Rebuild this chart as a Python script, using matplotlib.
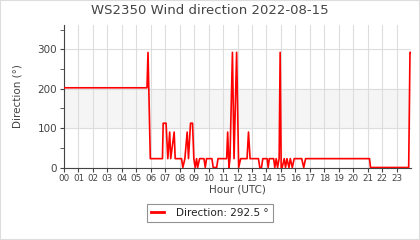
import matplotlib
matplotlib.use("Agg")
import matplotlib.pyplot as plt
from matplotlib.patches import Rectangle
from matplotlib.ticker import MultipleLocator

hours = [0.00, 5.74, 5.81, 5.97, 6.81, 6.86, 7.06, 7.18, 7.31, 7.38, 7.62, 7.69,
         8.13, 8.22, 8.36, 8.52, 8.61, 8.75, 8.89, 8.98, 9.07, 9.17, 9.24, 9.38,
         9.68, 9.77, 9.86, 10.23, 10.32, 10.56, 10.65, 11.25, 11.32, 11.41, 11.48,
         11.65, 11.76, 11.94, 12.08, 12.22, 12.66, 12.76, 12.87, 13.45, 13.54,
         13.66, 13.75, 14.05, 14.12, 14.20, 14.50, 14.58, 14.68, 14.77, 14.88,
         14.95, 15.02, 15.09, 15.23, 15.32, 15.42, 15.56, 15.65, 15.79, 15.92,
         16.44, 16.58, 16.71, 21.13, 21.20, 23.84, 23.93, 24.00]
direction = [202.5, 202.5, 292.5, 22.5, 22.5, 112.5, 112.5, 22.5, 90, 22.5, 90, 22.5,
             22.5, 0, 22.5, 90, 22.5, 112.5, 112.5, 22.5, 0, 22.5, 0, 22.5,
             22.5, 0, 22.5, 22.5, 0, 0, 22.5, 22.5, 90, 0, 22.5,
             292.5, 22.5, 292.5, 0, 22.5, 22.5, 90, 22.5, 22.5, 0,
             0, 22.5, 22.5, 0, 22.5, 22.5, 0, 22.5, 0, 22.5,
             292.5, 0, 0, 22.5, 0, 22.5, 0, 22.5, 0, 22.5,
             22.5, 0, 22.5, 22.5, 0, 0, 292.5, 292.5]
xtick_labels = ["%02d" % h for h in range(24)]
legend_label = "Direction: 292.5 °"
title = "WS2350 Wind direction 2022-08-15"

TXT = "#444444"
GRID = "#dddddd"

fig = plt.figure(figsize=(4.2, 2.4), dpi=100)
fig.patches.append(Rectangle((0, 0), 1, 1, transform=fig.transFigure,
                             fill=False, edgecolor="#dddddd", linewidth=1.5))
ax = fig.add_axes([64/420, 1-167.5/240, (411-64)/420, (167.5-25)/240])

ax.axhspan(100, 200, color="#f5f5f5", zorder=0)
ax.plot(hours, direction, color="#ff0000", linewidth=1.2, label=legend_label, zorder=3)

ax.set_xlim(0, 24)
ax.set_ylim(0, 362)
ax.set_xticks(range(24))
ax.set_xticklabels(xtick_labels)
ax.set_yticks([0, 100, 200, 300])
ax.yaxis.set_minor_locator(MultipleLocator(50))
ax.grid(True, which="major", color=GRID, linewidth=0.8, zorder=1)
ax.set_axisbelow(True)

for s in ["top", "right"]:
    ax.spines[s].set_visible(False)
for s in ["left", "bottom"]:
    ax.spines[s].set_color("#444444")
    ax.spines[s].set_linewidth(0.8)

ax.tick_params(axis="x", labelsize=6.3, colors=TXT, length=3, pad=1.5)
ax.tick_params(axis="y", labelsize=7.5, colors=TXT, length=3, pad=2)
ax.tick_params(axis="y", which="minor", length=3, color=TXT)
ax.set_xlabel("Hour (UTC)", fontsize=7.5, color=TXT, labelpad=1.5)
ax.set_ylabel("Direction (°)", fontsize=7.5, color=TXT, labelpad=11)

fig.text(0.5, 1-11/240, title, ha="center", va="center", fontsize=9.5, color=TXT)

leg = ax.legend(loc="center", bbox_to_anchor=(210/420, 1-213/240),
                bbox_transform=fig.transFigure, fontsize=7.5, frameon=True,
                fancybox=False, handlelength=1.2, borderpad=0.4, handletextpad=1.2)
leg.get_frame().set_edgecolor("#777777")
leg.get_frame().set_linewidth(0.8)
for t in leg.get_texts():
    t.set_color("#222222")
for l in leg.get_lines():
    l.set_linewidth(2)

fig.savefig("out.png", dpi=100)
